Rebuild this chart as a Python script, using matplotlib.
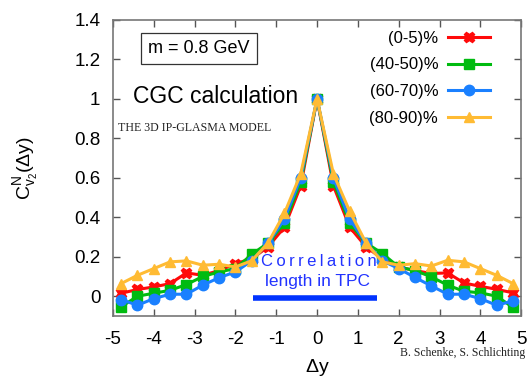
import matplotlib.pyplot as plt
from matplotlib.ticker import FormatStrFormatter, MultipleLocator

plt.rcParams["font.family"] = ["Liberation Sans", "DejaVu Sans"]
plt.rcParams["axes.unicode_minus"] = False
plt.rcParams["mathtext.fontset"] = "custom"
plt.rcParams["mathtext.rm"] = "Liberation Sans"
plt.rcParams["mathtext.it"] = "Liberation Sans"

# rapidity gap positions
dy = [-4.8, -4.4, -4.0, -3.6, -3.2, -2.8, -2.4, -2.0, -1.6, -1.2, -0.8, -0.4, 0.0,
      0.4, 0.8, 1.2, 1.6, 2.0, 2.4, 2.8, 3.2, 3.6, 4.0, 4.4, 4.8]

c_0_5 = [0.015, 0.034, 0.047, 0.064, 0.118, 0.106, 0.13, 0.165, 0.19, 0.25, 0.35, 0.56, 1.0,
         0.56, 0.35, 0.25, 0.19, 0.148, 0.13, 0.115, 0.118, 0.067, 0.05, 0.035, 0.017]
c_40_50 = [-0.054, 0.0, 0.015, 0.03, 0.059, 0.1, 0.123, 0.14, 0.212, 0.27, 0.37, 0.58, 1.0,
           0.58, 0.37, 0.27, 0.216, 0.148, 0.13, 0.098, 0.056, 0.025, 0.017, 0.0, -0.057]
c_60_70 = [-0.017, -0.046, -0.012, 0.01, 0.01, 0.056, 0.094, 0.123, 0.18, 0.27, 0.39, 0.60, 1.0,
           0.60, 0.39, 0.27, 0.18, 0.14, 0.095, 0.052, 0.01, 0.01, -0.012, -0.046, -0.024]
c_80_90 = [0.064, 0.106, 0.14, 0.174, 0.179, 0.157, 0.162, 0.148, 0.18, 0.27, 0.42, 0.62, 1.0,
           0.62, 0.43, 0.27, 0.174, 0.157, 0.165, 0.153, 0.182, 0.174, 0.14, 0.106, 0.064]

labels = ["(0-5)%", "(40-50)%", "(60-70)%", "(80-90)%"]
colors = ["#ff0a0a", "#00bb10", "#1a80ff", "#ffbb33"]
markers = ["X", "s", "o", "^"]

fig = plt.figure(figsize=(5.28, 3.77), dpi=100)
ax = fig.add_axes([0.214, 0.162, 0.773, 0.785])

for vals, lab, col, mk in zip([c_0_5, c_40_50, c_60_70, c_80_90], labels, colors, markers):
    ax.plot(dy, vals, color=col, lw=2.2, marker=mk, ms=7.5, label=lab, clip_on=False)

ax.set_xlim(-5, 5)
ax.set_ylim(-0.1, 1.4)
ax.xaxis.set_major_locator(MultipleLocator(1))
ax.yaxis.set_major_locator(MultipleLocator(0.2))
ax.yaxis.set_major_formatter(FormatStrFormatter("%g"))
ax.tick_params(direction="in", top=True, right=True, length=5, width=1, color="#555555",
               labelsize=13.5)
ax.tick_params(axis="x", pad=11)
ax.tick_params(axis="y", pad=9)
for sp in ax.spines.values():
    sp.set_color("#777777")
    sp.set_linewidth(1.2)

ax.set_xlabel(r"$\Delta$y", fontsize=14, labelpad=6)
ax.set_ylabel(r"C$^{\rm N}_{\rm v_2}$($\Delta$y)", fontsize=14, labelpad=25)

ax.legend(loc="upper right", bbox_to_anchor=(0.95, 1.0), frameon=False, markerfirst=False,
          fontsize=12, handlelength=2.5, labelspacing=0.7, borderaxespad=0.25,
          handletextpad=0.6)

ax.text(0.086, 0.904, "m = 0.8 GeV", transform=ax.transAxes, fontsize=13, va="center",
        bbox=dict(boxstyle="square,pad=0.4", fc="white", ec="#333333", lw=0.9))
ax.text(0.05, 0.74, "CGC calculation", transform=ax.transAxes, fontsize=16.5, va="center")
ax.text(0.012, 0.635, "THE 3D IP-GLASMA MODEL", transform=ax.transAxes, fontsize=8.6,
        family="Liberation Serif", color="#222222", va="center")

ax.text(0.05, 0.175, "C\u2009o\u2009r\u2009r\u2009e\u2009l\u2009a\u2009t\u2009i\u2009o\u2009n",
        fontsize=12, color="#2233ff", ha="center", va="center")
ax.text(0.0, 0.075, "length in TPC", fontsize=12.5, color="#2233ff", ha="center", va="center")
ax.plot([-1.58, 1.47], [-0.01, -0.01], color="#0033ff", lw=4, solid_capstyle="butt")

fig.text(0.757, 0.055, "B. Schenke, S. Schlichting", fontsize=8.5, family="Liberation Serif",
         color="#222222")

fig.savefig("out.png", dpi=100)
